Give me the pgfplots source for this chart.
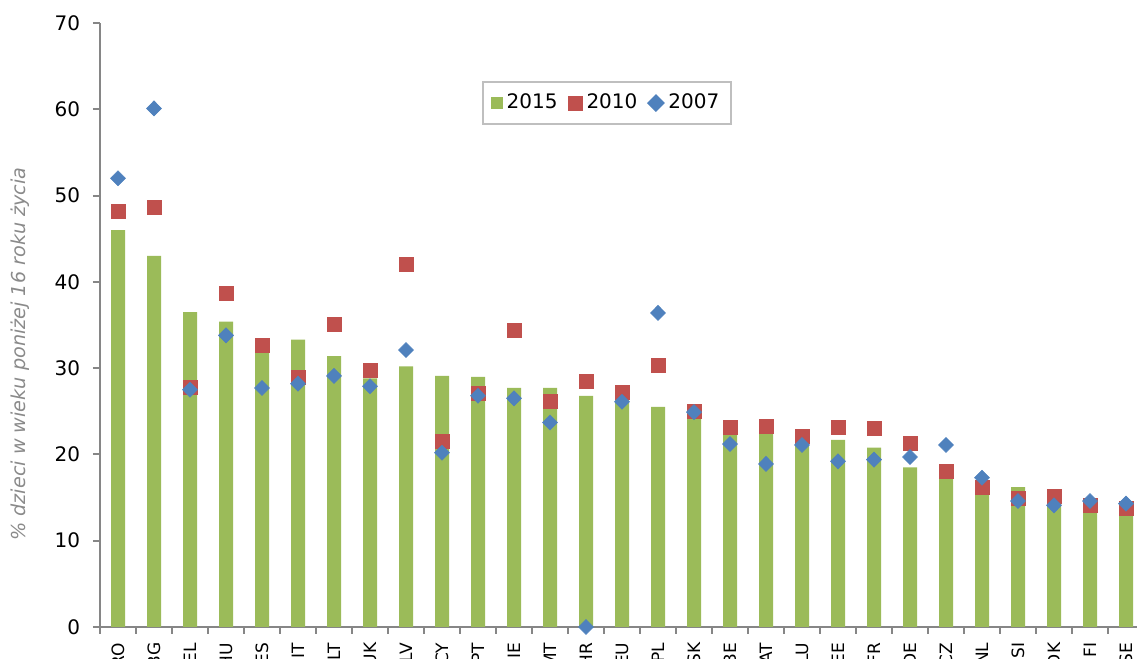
\documentclass[border=0pt]{standalone}
\usepackage{fontspec}
\setmainfont{DejaVu Sans}
\usepackage{pgfplots}
\pgfplotsset{compat=1.18}
\definecolor{cgreen}{HTML}{9BBB59}
\definecolor{cred}{HTML}{C0504D}
\definecolor{cblue}{HTML}{4F81BD}
\definecolor{caxis}{HTML}{868686}
\definecolor{clabel}{HTML}{8A8A8A}
\definecolor{clegend}{HTML}{BFBFBF}
\begin{document}
\begin{tikzpicture}
\path[use as bounding box] (0pt,0pt) rectangle (568.5pt,329.5pt);
\clip (0pt,0pt) rectangle (568.5pt,329.5pt);
\begin{axis}[
  at={(50pt,16pt)}, anchor=south west,
  scale only axis, width=522pt, height=302pt,
  xmin=-0.5, xmax=28.5, ymin=0, ymax=70,
  clip=false,
  axis x line*=bottom, axis y line*=left,
  axis line style={caxis, line width=1pt},
  every tick/.style={caxis, line width=1pt},
  tick align=outside,
  major tick length=3.5pt, minor tick length=3.5pt,
  ytick={0,10,...,70},
  xtick={0,...,28},
  major x tick style={draw=none},
  minor xtick={-0.5,0.5,...,28.5},
  xticklabels={RO,BG,EL,HU,ES,IT,LT,UK,LV,CY,PT,IE,MT,HR,EU,PL,SK,BE,AT,LU,EE,FR,DE,CZ,NL,SI,DK,FI,SE},
  tick label style={font=\fontsize{10}{12}\selectfont},
  /pgf/number format/assume math mode=true,
  xticklabel style={rotate=90, anchor=east, inner xsep=4.2pt, font=\fontsize{8.5}{10}\selectfont},
  yticklabel style={anchor=east, inner xsep=6.3pt},
  ylabel={\itshape\% dzieci w wieku poniżej 16 roku życia},
  ylabel style={at={(axis description cs:-0.0766,0.452)}, anchor=center, font=\fontsize{9.6}{11}\selectfont, text=clabel},
  legend style={at={(axis description cs:0.4856,0.8675)}, anchor=center, draw=clegend, line width=1pt,
    font=\fontsize{10}{12}\selectfont, legend columns=-1, inner xsep=4pt, inner ysep=4pt,
    /tikz/every even column/.append style={column sep=3pt}},
]
\addplot[ybar, bar width=7pt, bar shift=0pt, fill=cgreen, draw=none,
  legend image code/.code={\fill[cgreen] (0pt,-3pt) rectangle (6pt,3pt);}]
coordinates {(0,46.0) (1,43.0) (2,36.5) (3,35.4) (4,31.8) (5,33.3) (6,31.4) (7,28.8) (8,30.2) (9,29.1)
 (10,29.0) (11,27.7) (12,27.7) (13,26.8) (14,26.3) (15,25.5) (16,24.6) (17,22.3) (18,22.6) (19,22.0)
 (20,21.7) (21,20.8) (22,18.5) (23,17.4) (24,15.5) (25,16.2) (26,14.3) (27,13.2) (28,12.9)};
\addlegendentry{2015}
\addplot[only marks, mark=square*, mark size=3.5pt, mark options={fill=cred, draw=cred, line width=0.3pt},
  legend image code/.code={\fill[cred] (0pt,-3.25pt) rectangle (6.5pt,3.25pt);}]
coordinates {(0,48.2) (1,48.6) (2,27.8) (3,38.7) (4,32.6) (5,28.9) (6,35.1) (7,29.8) (8,42.0) (9,21.5)
 (10,27.1) (11,34.4) (12,26.2) (13,28.5) (14,27.2) (15,30.3) (16,25.0) (17,23.2) (18,23.3) (19,22.1)
 (20,23.2) (21,23.0) (22,21.3) (23,18.0) (24,16.2) (25,14.9) (26,15.1) (27,14.1) (28,13.7)};
\addlegendentry{2010}
\addplot[only marks, mark=diamond*, mark size=3.75pt, mark options={fill=cblue, draw=cblue, line width=0.3pt, xscale=1.33},
  legend image code/.code={\fill[cblue] (0pt,0pt) -- (3.75pt,3.75pt) -- (7.5pt,0pt) -- (3.75pt,-3.75pt) -- cycle;}]
coordinates {(0,52.0) (1,60.1) (2,27.5) (3,33.8) (4,27.7) (5,28.2) (6,29.1) (7,27.9) (8,32.1) (9,20.2)
 (10,26.8) (11,26.5) (12,23.7) (13,0.0) (14,26.1) (15,36.4) (16,24.9) (17,21.2) (18,18.9) (19,21.1)
 (20,19.2) (21,19.4) (22,19.7) (23,21.1) (24,17.3) (25,14.6) (26,14.1) (27,14.6) (28,14.3)};
\addlegendentry{2007}
\end{axis}
\end{tikzpicture}
\end{document}
